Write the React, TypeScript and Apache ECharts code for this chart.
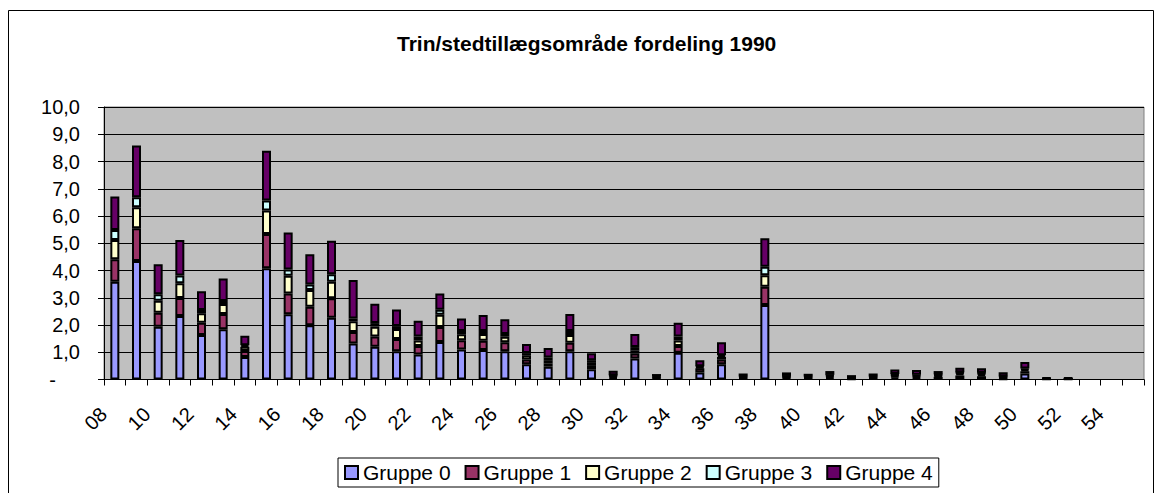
import React, { useEffect, useRef } from "react";
import * as echarts from "echarts";

const categories = [
  "08","09","10","11","12","13","14","15","16","17","18","19","20","21","22","23",
  "24","25","26","27","28","29","30","31","32","33","34","35","36","37","38","39",
  "40","41","42","43","44","45","46","47","48","49","50","51","52","53","54","55",
];

const gruppe0 = [
  3.59,4.35,1.94,2.33,1.63,1.84,0.83,4.08,2.39,1.99,2.27,1.32,1.20,1.04,0.92,1.38,
  1.10,1.08,1.04,0.56,0.47,1.04,0.38,0.05,0.77,0.04,0.98,0.26,0.56,0.03,2.73,0.04,
  0.03,0.05,0.02,0.03,0.07,0.05,0.10,0.15,0.12,0.02,0.22,0.01,0.01,0,0,0,
];
const gruppe1 = [
  0.82,1.20,0.51,0.66,0.45,0.56,0.22,1.26,0.77,0.68,0.71,0.42,0.38,0.45,0.31,0.55,
  0.34,0.34,0.33,0.17,0.12,0.31,0.12,0.05,0.18,0.03,0.25,0.15,0.17,0.03,0.67,0.04,
  0.03,0.05,0.02,0.03,0.06,0.05,0.04,0.06,0.06,0.04,0.08,0.01,0.01,0,0,0,
];
const gruppe2 = [
  0.71,0.77,0.44,0.54,0.35,0.37,0.15,0.86,0.65,0.61,0.61,0.40,0.36,0.36,0.20,0.45,
  0.22,0.25,0.20,0.16,0.12,0.28,0.11,0.04,0.12,0.03,0.20,0.05,0.10,0.03,0.43,0.03,
  0.03,0.04,0.02,0.03,0.04,0.04,0.03,0.04,0.04,0.03,0.06,0.01,0.01,0,0,0,
];
const gruppe3 = [
  0.37,0.37,0.24,0.29,0.12,0.11,0.06,0.37,0.23,0.21,0.27,0.10,0.13,0.11,0.15,0.18,
  0.12,0.11,0.10,0.08,0.10,0.15,0.10,0.02,0.12,0.02,0.15,0.03,0.06,0.02,0.31,0.02,
  0.02,0.03,0.01,0.02,0.03,0.03,0.02,0.02,0.03,0.02,0.04,0.01,0.01,0,0,0,
];
const gruppe4 = [
  1.23,1.90,1.10,1.30,0.69,0.83,0.35,1.82,1.35,1.11,1.23,1.41,0.71,0.61,0.58,0.60,
  0.46,0.59,0.54,0.33,0.35,0.62,0.25,0.16,0.48,0.08,0.50,0.22,0.48,0.11,1.04,0.13,
  0.10,0.14,0.09,0.11,0.17,0.18,0.12,0.16,0.16,0.16,0.24,0.03,0.03,0,0,0,
];

const seriesNames = ["Gruppe 0", "Gruppe 1", "Gruppe 2", "Gruppe 3", "Gruppe 4"];
const seriesColors = ["#9999FF", "#993366", "#FFFFCC", "#CCFFFF", "#660066"];
const seriesValues = [gruppe0, gruppe1, gruppe2, gruppe3, gruppe4];

const FONT = "'Liberation Sans', Arial, sans-serif";

export default function App() {
  const ref = useRef<HTMLDivElement>(null);

  useEffect(() => {
    if (!ref.current) return;
    const chart = echarts.init(ref.current, undefined, { renderer: "svg" });
    chart.setOption({
      animation: false,
      backgroundColor: "#FFFFFF",
      textStyle: { fontFamily: FONT },
      title: {
        text: "Trin/stedtillægsområde fordeling 1990",
        left: 392,
        top: 28,
        textStyle: { fontFamily: FONT, fontSize: 21, fontWeight: "bold", color: "#000" },
      },
      graphic: [
        {
          type: "rect",
          shape: { x: 8.5, y: 10.5, width: 1145, height: 490 },
          style: { fill: "none", stroke: "#000", lineWidth: 1 },
          silent: true,
          z: 100,
        },
      ],
      legend: {
        left: 338,
        top: 458,
        icon: "rect",
        itemWidth: 13,
        itemHeight: 13,
        itemGap: 14,
        padding: [4, 6, 4, 6],
        borderColor: "#000",
        borderWidth: 1,
        backgroundColor: "#FFFFFF",
        textStyle: { fontFamily: FONT, fontSize: 21, color: "#000" },
        data: seriesNames,
      },
      grid: {
        left: 104,
        right: 10,
        top: 107,
        height: 272.5,
        show: true,
        backgroundColor: "#C0C0C0",
        borderColor: "#808080",
        borderWidth: 1,
      },
      xAxis: {
        type: "category",
        data: categories,
        boundaryGap: true,
        axisLine: { show: true, lineStyle: { color: "#000", width: 1 } },
        axisTick: { show: true, interval: 0, length: 6, lineStyle: { color: "#000" } },
        axisLabel: {
          interval: 1,
          rotate: 45,
          margin: 20,
          padding: [0, 16, 0, 0],
          fontFamily: FONT,
          fontSize: 20,
          color: "#000",
        },
        splitLine: { show: false },
      },
      yAxis: {
        type: "value",
        min: 0,
        max: 10,
        interval: 1,
        axisLine: { show: true, lineStyle: { color: "#000", width: 1 } },
        axisTick: { show: true, length: 6, lineStyle: { color: "#000" } },
        splitLine: { show: true, lineStyle: { color: "#000", width: 1 } },
        axisLabel: {
          margin: 24,
          fontFamily: FONT,
          fontSize: 20,
          color: "#000",
          formatter: (v: number) =>
            v === 0 ? "{d|-}" : v.toFixed(1).replace(".", ","),
          rich: {
            d: { fontFamily: FONT, fontSize: 20, color: "#000", padding: [0, 24, 0, 0] },
          },
        },
      },
      series: seriesNames.map((name, k) => ({
        name,
        type: "bar",
        stack: "total",
        barWidth: 9,
        data: seriesValues[k].map((v) => (v === 0 ? null : v)),
        itemStyle: { color: seriesColors[k], borderColor: "#000", borderWidth: 2 },
      })),
    });
    return () => chart.dispose();
  }, []);

  return (
    <div
      ref={ref}
      style={{ position: "absolute", left: 0, top: 0, width: 1154, height: 493 }}
    />
  );
}
